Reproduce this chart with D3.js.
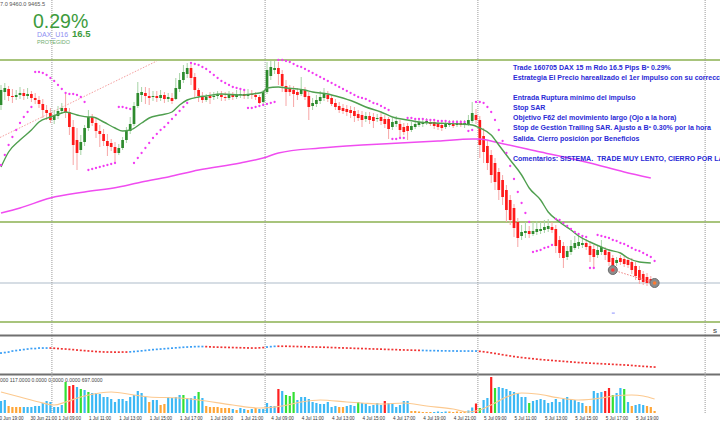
<!DOCTYPE html>
<html><head><meta charset="utf-8">
<script src="https://cdn.jsdelivr.net/npm/d3@7"></script>
<style>html,body{margin:0;padding:0;background:#fff;overflow:hidden}text{font-family:"Liberation Sans",Arial,sans-serif}</style>
</head><body>
<svg id="c" width="720" height="426"></svg>
<script>
// ---------- DATA ----------
const opens = [9639,9652,9655,9648,9647,9649,9651,9648,9650,9646,
9644,9640,9634,9631,9624,9628,9633,9636,9632,9617,
9604,9594,9602,9616,9627,9621,9613,9610,9603,9601,
9597,9591,9596,9604,9613,9620,9638,9649,9651,9648,
9647,9648,9646,9649,9645,9646,9645,9655,9664,9670,
9676,9667,9654,9648,9644,9648,9647,9648,9649,9647,
9646,9649,9647,9649,9650,9648,9650,9649,9647,9642,
9652,9668,9674,9676,9670,9658,9655,9654,9652,9650,
9654,9648,9638,9640,9643,9646,9649,9646,9641,9638,
9636,9635,9634,9633,9630,9629,9625,9628,9627,9625,
9627,9625,9625,9617,9620,9620,9617,9618,9614,9617,
9619,9620,9621,9622,9622,9621,9619,9617,9619,9620,
9619,9621,9619,9620,9623,9629,9624,9608,9598,9589,
9581,9572,9564,9554,9544,9536,9522,9508,9511,9513,
9510,9512,9513,9514,9515,9517,9515,9504,9498,9487,
9492,9496,9498,9499,9501,9498,9495,9489,9492,9494,
9492,9486,9481,9486,9485,9484,9482,9478,9474,9470,
9467,9465,9463];
const highs = [9659,9661,9658,9655,9654,9657,9655,9656,9653,9651,
9648,9645,9639,9636,9634,9638,9641,9651,9636,9624,
9616,9609,9619,9634,9630,9626,9619,9615,9610,9605,
9602,9600,9607,9617,9627,9642,9662,9657,9657,9656,
9653,9653,9654,9652,9651,9651,9666,9671,9679,9681,
9680,9671,9656,9652,9650,9652,9652,9653,9653,9652,
9653,9652,9654,9654,9654,9655,9654,9652,9649,9654,
9682,9683,9683,9682,9674,9664,9659,9658,9656,9667,
9657,9652,9646,9649,9653,9656,9653,9649,9645,9642,
9640,9639,9638,9637,9634,9633,9632,9632,9631,9630,
9631,9629,9627,9626,9628,9624,9621,9621,9622,9625,
9625,9625,9626,9625,9625,9624,9623,9624,9624,9624,
9624,9624,9624,9629,9642,9635,9628,9616,9604,9594,
9586,9576,9569,9559,9549,9540,9526,9519,9522,9518,
9522,9523,9522,9524,9525,9522,9519,9508,9502,9498,
9504,9508,9509,9507,9505,9502,9499,9498,9504,9497,
9495,9489,9487,9489,9488,9487,9486,9482,9478,9473,
9471,9468,9465];
const lows = [9634,9644,9643,9641,9644,9645,9644,9645,9642,9640,
9636,9626,9624,9621,9620,9625,9630,9626,9609,9579,
9574,9589,9598,9613,9618,9606,9597,9598,9588,9593,
9581,9589,9594,9601,9610,9618,9636,9642,9640,9639,
9643,9642,9643,9641,9642,9640,9644,9652,9661,9666,
9659,9646,9642,9641,9642,9640,9644,9645,9643,9643,
9644,9644,9645,9646,9645,9645,9645,9644,9640,9640,
9650,9664,9670,9659,9652,9638,9648,9637,9644,9648,
9644,9624,9634,9637,9640,9643,9642,9638,9634,9631,
9630,9628,9626,9622,9623,9617,9622,9620,9616,9622,
9619,9616,9605,9614,9617,9607,9609,9604,9612,9615,
9617,9617,9619,9618,9615,9614,9613,9615,9617,9616,
9617,9617,9616,9618,9621,9620,9586,9581,9574,9561,
9554,9544,9539,9522,9519,9507,9497,9504,9506,9506,
9508,9509,9510,9511,9512,9511,9491,9486,9476,9484,
9489,9494,9495,9496,9494,9482,9477,9486,9489,9484,
9478,9470,9478,9479,9477,9476,9470,9464,9460,9459,
9458,9458,9458];
const closes = [9654,9656,9648,9647,9649,9651,9648,9650,9646,9644,
9640,9634,9631,9624,9628,9633,9636,9632,9617,9599,
9591,9602,9616,9627,9621,9613,9610,9603,9598,9597,
9591,9596,9604,9613,9620,9638,9651,9652,9648,9646,
9648,9646,9649,9645,9647,9643,9656,9664,9672,9676,
9666,9654,9648,9644,9647,9646,9648,9649,9647,9646,
9649,9647,9649,9650,9648,9650,9649,9647,9641,9652,
9674,9677,9676,9670,9658,9652,9652,9650,9649,9655,
9647,9637,9641,9644,9647,9650,9645,9640,9637,9634,
9633,9632,9631,9628,9626,9624,9628,9624,9623,9626,
9623,9620,9615,9622,9623,9614,9612,9613,9618,9620,
9622,9622,9623,9620,9618,9617,9616,9620,9621,9618,
9621,9619,9621,9624,9631,9624,9599,9592,9581,9569,
9562,9554,9547,9534,9524,9516,9506,9512,9513,9510,
9513,9515,9515,9517,9518,9514,9498,9491,9486,9493,
9498,9501,9502,9501,9497,9489,9487,9494,9497,9489,
9482,9474,9484,9482,9480,9479,9474,9468,9464,9462,
9461,9461,9461];
const sar = [9579,9589,9599,9607,9614,9621,9627,9632,9637,9672,
9672,9671,9669,9666,9663,9659,9655,9651,9650,9650,
9649,9647,9642,9574,9575,9576,9577,9578,9579,9580,
9581,9637,9637,9636,9635,9581,9586,9591,9596,9601,
9606,9610,9614,9617,9621,9625,9629,9633,9637,9641,
9681,9680,9679,9677,9675,9672,9669,9666,9663,9661,
9659,9657,9656,9655,9654,9636,9636,9637,9638,9639,
9640,9641,9642,9684,9684,9683,9682,9680,9678,9677,
9675,9673,9671,9669,9667,9665,9663,9661,9659,9657,
9655,9653,9651,9649,9647,9646,9645,9643,9641,9640,
9638,9636,9634,9605,9605,9606,9606,9626,9626,9625,
9625,9625,9624,9624,9624,9623,9623,9623,9622,9622,
9622,9622,9622,9613,9614,9642,9642,9641,9637,9632,
9624,9614,9603,9591,9578,9565,9552,9541,9531,9522,
9492,9493,9494,9496,9497,9499,9525,9524,9521,9518,
9515,9512,9510,9508,9507,9476,9476,9509,9508,9507,
9506,9504,9503,9501,9500,9498,9496,9494,9493,9491,
9489,9487,9483];
// green moving average (vertices read at candle indices)
const maIdx = [0,2,5,8,10,13,16,17,20,23,24,27,30,32,34,37,39,42,45,47,49,52,54,58,63,66,69,70,73,75,78,80,82,86,89,93,96,100,103,107,110,114,121,124,126,129,131,134,137,139,142,144,147,150,152,155,158,160,163,165,168,171];
const maVal = [9577,9592,9604,9614,9622,9627,9631,9632,9629,9627,9627,9622,9616,9613,9614,9621,9626,9629,9632,9639,9644,9647,9648,9650,9649,9650,9652,9656,9657,9656,9655,9654,9652,9650,9647,9642,9637,9632,9627,9624,9622,9621,9620,9619,9616,9609,9599,9584,9569,9556,9544,9532,9522,9514,9508,9502,9497,9494,9491,9486,9482,9481];
// magenta long moving average
const ma2Idx = [0,5,13,22,31,37,44,52,63,69,73,84,95,105,115,124,126,130,142,155,164,171];
const ma2Val = [9531,9536,9546,9552,9557,9562,9567,9574,9581,9586,9591,9596,9599,9601,9603,9605,9605,9602,9592,9581,9572,9566];
const volumes = [240,260,140,120,120,120,120,120,120,140,
140,200,240,220,120,120,160,620,540,560,
520,480,460,420,400,400,380,320,320,280,
220,280,280,240,320,360,440,400,320,220,
260,260,160,180,320,300,320,360,360,300,
300,340,420,300,140,120,120,120,100,100,
100,80,60,100,80,60,80,100,80,80,
200,140,140,480,440,360,340,420,260,320,
320,280,220,200,180,180,220,120,140,120,
120,140,160,140,220,200,180,140,160,200,
160,240,200,200,120,160,240,240,40,40,
30,20,20,20,20,30,20,30,30,20,
30,20,30,50,110,190,100,260,300,720,
500,520,500,480,440,420,400,320,320,200,
240,260,280,260,200,220,280,220,280,320,
280,260,220,200,140,140,440,400,420,440,
500,360,400,500,480,220,140,160,180,160,
140,120,40];
// volume class per bar: b normal, g rising, r climax, o low
const volumeClass = "bboooobbbb"+"bbbbbbbgrr"+"bgbgbbbbbb"+"bbbbbbbbbo"+"bboobbbbgb"+"bbgboooooo"+"obobbobobb"+"bbbrbgggbb"+"bbbbbbbbbo"+"obbbgbbbbb"+"brbbbbbboo"+"oooobbbboo"+"ooobbrgbbr"+"gbbbbbbbbg"+"bbbbbbbbbb"+"bbbboobbbr"+"rgbbgbobbb"+"ooo";
const volMaIdx = [0,5,10,14,17,21,26,29,35,39,47,52,61,68,74,79,84,91,95,100,106,112,119,123,126,130,133,137,141,147,152,158,161,166,169,172];
const volMaVal = [420,320,220,160,220,320,400,420,360,320,300,260,160,100,140,220,260,220,200,180,200,140,80,20,60,200,320,400,380,300,260,300,340,360,340,280];
const indicator = [23,23.5,24,25,25.5,26,26.5,27,27.5,27.5,28,28,28,
28,27.8,27.5,27.2,27,26.7,26.4,26,25.7,25.4,25.1,24.8,24.5,24.3,24.1,24,24,23.9,23.9,24,24,
24.2,24.5,24.8,25.2,25.6,26,26.4,26.7,27,27.3,27.6,27.9,28.2,28.5,28.8,29,29.2,29.4,29.5,29.5,
29.4,29.2,29,28.9,28.8,28.7,28.6,28.5,28.4,28.3,28.2,28.1,28,28,28.2,28.5,
29,29.4,29.7,
29.8,29.8,29.8,29.7,29.6,29.5,29.4,29.3,29.2,29.1,29,28.9,28.8,28.7,28.5,28.4,28.2,28.1,28,27.9,27.7,27.6,27.5,27.4,27.2,27.1,27,26.9,26.7,26.6,26.5,26.4,26.2,26.1,26,25.9,25.8,25.7,
25.6,25.5,25.4,25.4,25.3,25.2,25.2,25.1,25.1,25,25,25,25,25,25,
24.7,24.3,23.8,23.2,22.6,22,21.3,20.7,20.1,19.5,19,18.5,18.1,17.7,17.3,16.9,16.5,16.2,15.9,15.6,15.3,15,14.7,14.4,14.1,13.8,13.5,13.3,13.1,12.9,12.7,12.5,12.3,12.1,11.9,11.7,11.5,11.3,11.1,10.9,10.6,10.3,10,9.7,9.5,9.2,9];
const indicatorRuns = [["up",13],["down",21],["up",20],["down",16],["up",3],["down",38],["up",15],["down",47]];
const greenLevels = [9684, 9522, 9422];
const closeLevel = [9461];
const trendIdx = [0, 41], trendPx = [9606, 9683];
const tradeIdx = [161, 172], tradePx = [9474, 9461];
const tradeMarkPx = 9431;
const separatorIdx = [13.4, 69.5, 125.5, 185.3];
const timeLabels = ["30 Jun 19:00","30 Jun 21:00","1 Jul 09:00","1 Jul 11:00","1 Jul 13:00","1 Jul 15:00","1 Jul 17:00","1 Jul 19:00","1 Jul 21:00","4 Jul 09:00","4 Jul 11:00","4 Jul 13:00","4 Jul 15:00","4 Jul 17:00","4 Jul 19:00","4 Jul 21:00","5 Jul 09:00","5 Jul 11:00","5 Jul 13:00","5 Jul 15:00","5 Jul 17:00","5 Jul 19:00"];
const timeIdx = [-1.2,7.6,15,23,31,39,47,55,63,71,79,87,95,103,111,119,127,135,143,151,159,167];
const notes = ["Trade 160705 DAX 15 m Rdo 16.5 Pips Bº 0.29%","Estrategia El Precio harealizado el 1er impulso con su corrección","","Entrada Ruptura mínimo del impulso","Stop SAR","Objetivo F62 del movimiento largo (Ojo a la hora)","Stop de Gestión Trailing SAR. Ajusto a Bº 0.30% por la hora","Salida. Cierro posición por Beneficios","","Comentarios: SISTEMA.  TRADE MUY LENTO, CIERRO POR LA HORA"];
const priceHeader = "7.0 9460.0 9465.5";
const volumeHeader = "000 117.0000 0.0000 0.0000 0.0000 697.0000";

// ---------- DRAW ----------
const svg = d3.select("#c");
const x = d3.scaleLinear().domain([0,172]).range([1,654.6]);
const y = d3.scaleLinear().domain([9422,9684]).range([322,60]);
const vy = d3.scaleLinear().domain([0,740]).range([413,376]);
const iy = d3.scaleLinear().domain([0,40]).range([376,336]);
const idx = d3.range(opens.length);

// horizontal levels
svg.selectAll(".lvl").data(greenLevels).join("line")
  .attr("x1",0).attr("x2",720).attr("y1",d=>y(d)).attr("y2",d=>y(d))
  .attr("stroke","#a8c47c").attr("stroke-width",2);
svg.selectAll(".cl").data(closeLevel).join("line")
  .attr("x1",0).attr("x2",720).attr("y1",d=>y(d)).attr("y2",d=>y(d))
  .attr("stroke","#d6dde4").attr("stroke-width",2);

// panel separators
[335.5,374.5].forEach(v=>svg.append("line").attr("x1",0).attr("x2",720).attr("y1",v).attr("y2",v).attr("stroke","#707070").attr("stroke-width",1.8));

// period separators
svg.selectAll(".sep").data(separatorIdx).join("line")
  .attr("x1",d=>x(d)).attr("x2",d=>x(d)).attr("y1",0).attr("y2",414)
  .attr("stroke","#9a9a9a").attr("stroke-width",1).attr("stroke-dasharray","1,1");

// trend line
svg.append("line").attr("x1",x(trendIdx[0])-1).attr("y1",y(trendPx[0])-0.5)
  .attr("x2",x(trendIdx[1])).attr("y2",y(trendPx[1]))
  .attr("stroke","#f5a0a0").attr("stroke-width",1).attr("stroke-dasharray","1.5,1.5");

// candles
const g = svg.append("g");
g.selectAll(".wick").data(idx).join("line")
  .attr("x1",i=>x(i)).attr("x2",i=>x(i)).attr("y1",i=>y(highs[i])).attr("y2",i=>y(lows[i]))
  .attr("stroke",i=>closes[i]>=opens[i]?"#a6d3a6":"#f7a6a6").attr("stroke-width",1);
g.selectAll(".body").data(idx).join("rect")
  .attr("x",i=>x(i)-1.35).attr("width",2.7)
  .attr("y",i=>y(Math.max(opens[i],closes[i])))
  .attr("height",i=>Math.max(1,Math.abs(y(opens[i])-y(closes[i]))))
  .attr("fill",i=>closes[i]>=opens[i]?"#2e8b2e":"#ff1a1a");

// moving averages
const lineMa = d3.line().x(d=>x(d[0])).y(d=>y(d[1])).curve(d3.curveMonotoneX);
svg.append("path").attr("d",lineMa(ma2Idx.map((d,i)=>[d,ma2Val[i]])))
  .attr("fill","none").attr("stroke","#f04cf0").attr("stroke-width",1.5);
svg.append("path").attr("d",lineMa(maIdx.map((d,i)=>[d,maVal[i]])))
  .attr("fill","none").attr("stroke","#4f9f4f").attr("stroke-width",1.4);

// SAR
svg.selectAll(".sar").data(idx).join("circle")
  .attr("cx",i=>x(i)).attr("cy",i=>y(sar[i])).attr("r",1.15).attr("fill","#f23cf2");

// trade
svg.append("line").attr("x1",x(tradeIdx[0])).attr("y1",y(tradePx[0])).attr("x2",x(tradeIdx[1])).attr("y2",y(tradePx[1]))
  .attr("stroke","#f08080").attr("stroke-width",1).attr("stroke-dasharray","1.5,1.5");
svg.selectAll(".tc").data(tradeIdx).join("circle")
  .attr("cx",d=>x(d)).attr("cy",(d,i)=>y(tradePx[i])).attr("r",4.5)
  .attr("fill","#8d8d8d").attr("stroke","#6d6d6d").attr("stroke-width",1);
svg.selectAll(".tcc").data(tradeIdx).join("circle")
  .attr("cx",d=>x(d)).attr("cy",(d,i)=>y(tradePx[i])).attr("r",1.8)
  .attr("fill",(d,i)=>i?"#ff7a30":"#ff3b3b");
svg.append("rect").attr("x",x(tradeIdx[0])-1).attr("y",y(tradeMarkPx)-0.5).attr("width",3).attr("height",1.2).attr("fill","#9fa3ff");

// indicator panel
const indColor = [];
indicatorRuns.forEach(([c,n])=>{for(let k=0;k<n;k++) indColor.push(c);});
svg.selectAll(".ind").data(idx).join("rect")
  .attr("x",i=>x(i)-1).attr("y",i=>iy(indicator[i])-0.8).attr("width",2).attr("height",1.7)
  .attr("fill",i=>indColor[i]==="up"?"#3b9ff5":"#f03434");

// volume panel
const vcol = {b:"#3cb8f5",g:"#33e033",r:"#ff2020",o:"#ffa536"};
svg.selectAll(".vol").data(idx).join("rect")
  .attr("x",i=>x(i)-1.1).attr("width",2.2)
  .attr("y",i=>vy(volumes[i])).attr("height",i=>vy(0)-vy(volumes[i]))
  .attr("fill",i=>vcol[volumeClass[i]]);
svg.append("path").attr("d",d3.line().x(d=>x(d[0])).y(d=>vy(d[1])).curve(d3.curveMonotoneX)(volMaIdx.map((d,i)=>[d,volMaVal[i]])))
  .attr("fill","none").attr("stroke","#fcc98f").attr("stroke-width",1.2);

// time axis
const ax = svg.append("g").attr("transform","translate(0,414)")
  .call(d3.axisBottom(x).tickValues(timeIdx).tickFormat((d,i)=>timeLabels[i]).tickSize(0).tickPadding(3));
ax.select(".domain").remove();
ax.selectAll("text").attr("text-anchor","start").attr("font-size","4.6px").attr("fill","#333")
  .style("font-family","'Liberation Sans',Arial,sans-serif");

// headers
svg.append("text").attr("x",0).attr("y",5.5).attr("font-size","5.6px").attr("fill","#555").text(priceHeader);
svg.append("text").attr("x",0).attr("y",381.5).attr("font-size","5px").attr("fill","#444").text(volumeHeader);
svg.append("text").attr("x",713).attr("y",333).attr("font-size","6px").attr("font-weight","bold").attr("fill","#555").text("S");

// trade summary labels
svg.append("text").attr("x",33).attr("y",28).attr("font-size","19.5px").attr("fill","#3d9b3d").text("0.29%");
svg.append("text").attr("x",37).attr("y",37).attr("font-size","7px").attr("fill","#8f8ff2").text("DAX_U16");
svg.append("text").attr("x",72).attr("y",37).attr("font-size","9.5px").attr("font-weight","bold").attr("fill","#3d9b3d").text("16.5");
svg.append("text").attr("x",37).attr("y",43.8).attr("font-size","5.5px").attr("fill","#6fae6f").text("PROTEGIDO");

// notes
svg.selectAll(".note").data(notes).join("text")
  .attr("x",513).attr("y",(d,i)=>69.8+i*10.1)
  .attr("font-size","7px").attr("font-weight","bold").attr("fill","#2a2ad6")
  .style("white-space","pre").text(d=>d);
</script>
</body></html>
